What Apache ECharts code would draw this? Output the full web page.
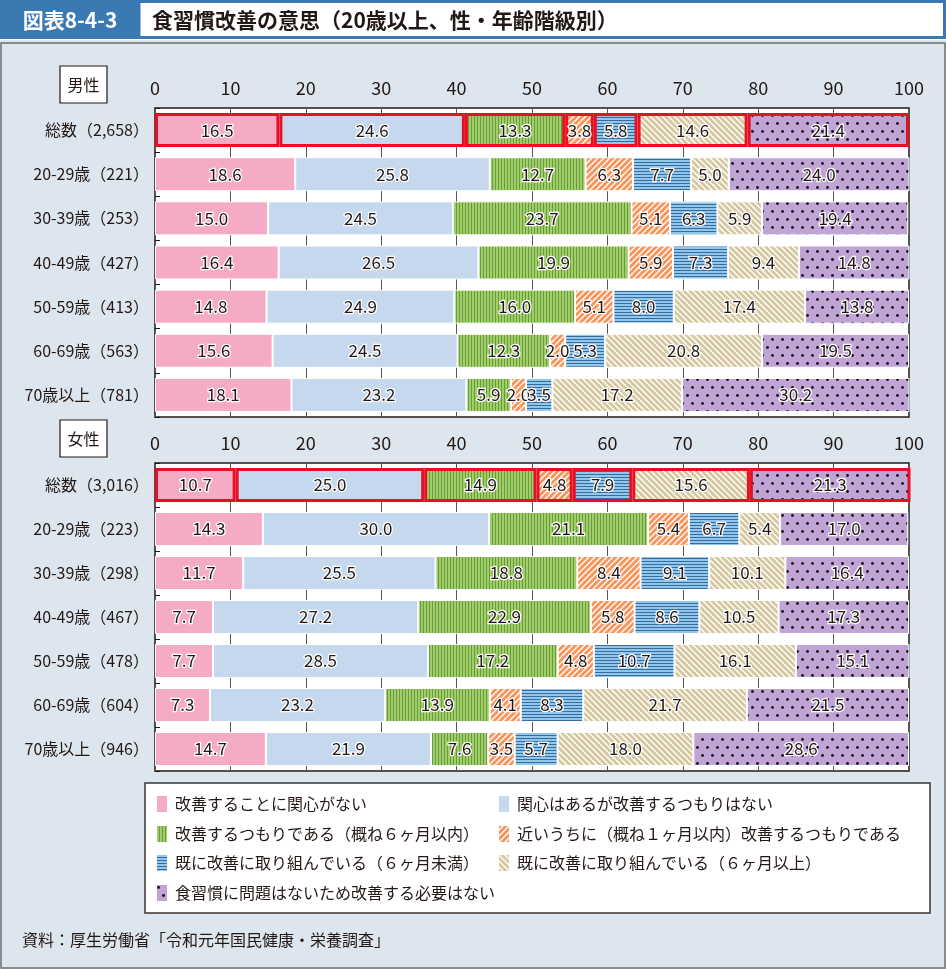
<!DOCTYPE html>
<html><head><meta charset="utf-8">
<script src="https://cdn.jsdelivr.net/npm/echarts@6/dist/echarts.min.js"></script>
<style>html,body{margin:0;padding:0;background:#fff}#c{width:946px;height:969px}</style>
</head><body><div id="c"></div>
<script>
const seriesNames = ['改善することに関心がない','関心はあるが改善するつもりはない','改善するつもりである（概ね６ヶ月以内）','近いうちに（概ね１ヶ月以内）改善するつもりである','既に改善に取り組んでいる（６ヶ月未満）','既に改善に取り組んでいる（６ヶ月以上）','食習慣に問題はないため改善する必要はない'];
const menCats = ['総数（2,658）','20-29歳（221）','30-39歳（253）','40-49歳（427）','50-59歳（413）','60-69歳（563）','70歳以上（781）'];
const womenCats = ['総数（3,016）','20-29歳（223）','30-39歳（298）','40-49歳（467）','50-59歳（478）','60-69歳（604）','70歳以上（946）'];
const xTicks = [0,10,20,30,40,50,60,70,80,90,100];
// values per series (rows = age groups, top to bottom)
const menNoInterest   = [16.5,18.6,15.0,16.4,14.8,15.6,18.1];
const menInterestNo   = [24.6,25.8,24.5,26.5,24.9,24.5,23.2];
const menWithin6m     = [13.3,12.7,23.7,19.9,16.0,12.3,5.9];
const menWithin1m     = [3.8,6.3,5.1,5.9,5.1,2.0,2.0];
const menUnder6m      = [5.8,7.7,6.3,7.3,8.0,5.3,3.5];
const menOver6m       = [14.6,5.0,5.9,9.4,17.4,20.8,17.2];
const menNoNeed       = [21.4,24.0,19.4,14.8,13.8,19.5,30.2];
const womenNoInterest = [10.7,14.3,11.7,7.7,7.7,7.3,14.7];
const womenInterestNo = [25.0,30.0,25.5,27.2,28.5,23.2,21.9];
const womenWithin6m   = [14.9,21.1,18.8,22.9,17.2,13.9,7.6];
const womenWithin1m   = [4.8,5.4,8.4,5.8,4.8,4.1,3.5];
const womenUnder6m    = [7.9,6.7,9.1,8.6,10.7,8.3,5.7];
const womenOver6m     = [15.6,5.4,10.1,10.5,16.1,21.7,18.0];
const womenNoNeed     = [21.3,17.0,16.4,17.3,15.1,21.5,28.6];

const menData = [menNoInterest,menInterestNo,menWithin6m,menWithin1m,menUnder6m,menOver6m,menNoNeed];
const womenData = [womenNoInterest,womenInterestNo,womenWithin6m,womenWithin1m,womenUnder6m,womenOver6m,womenNoNeed];

function mk(w,h,draw){const c=document.createElement('canvas');c.width=w;c.height=h;const x=c.getContext('2d');draw(x,w,h);return c;}
function pat(img){return {image:img,repeat:'repeat'};}
const pGreen = mk(3,4,(x,w,h)=>{x.fillStyle='#a0cf68';x.fillRect(0,0,w,h);x.fillStyle='#6a9a40';x.fillRect(0,0,1,h);});
const pOrange = mk(6,6,(x,w,h)=>{x.fillStyle='#f7945a';x.fillRect(0,0,w,h);x.strokeStyle='#fff';x.lineWidth=1.4;x.beginPath();x.moveTo(-1,7);x.lineTo(7,-1);x.moveTo(-1,1);x.lineTo(1,-1);x.moveTo(5,7);x.lineTo(7,5);x.stroke();});
const pBlue = mk(4,3,(x,w,h)=>{x.fillStyle='#90c8ec';x.fillRect(0,0,w,h);x.fillStyle='#3a6aa0';x.fillRect(0,0,w,1);});
const pTan = mk(6,6,(x,w,h)=>{x.fillStyle='#d6c79e';x.fillRect(0,0,w,h);x.strokeStyle='#fff';x.lineWidth=1.4;x.beginPath();x.moveTo(-1,-1);x.lineTo(7,7);x.moveTo(5,-1);x.lineTo(7,1);x.moveTo(-1,5);x.lineTo(1,7);x.stroke();});
const pPurple = mk(10,16,(x,w,h)=>{x.fillStyle='#c0a4d6';x.fillRect(0,0,w,h);x.fillStyle='#111';x.beginPath();x.arc(2.5,3.5,1.45,0,Math.PI*2);x.fill();x.beginPath();x.arc(7.5,11.5,1.45,0,Math.PI*2);x.fill();});
const fills = ['#f5abc6','#c5d8ee',pat(pGreen),pat(pOrange),pat(pBlue),pat(pTan),pat(pPurple)];

const FONT = '"Noto Sans CJK JP", "Noto Sans", sans-serif';
const TXT = '#231815';

function makeSeries(dataArr, gi){
  return dataArr.map((vals,si)=>({
    name: seriesNames[si], type:'bar', stack:'s'+gi, xAxisIndex:gi, yAxisIndex:gi,
    barWidth:34,
    itemStyle:{color:fills[si], borderColor:'#fff', borderWidth:1},
    label:{show:true, position:'inside', formatter:p=>p.value.toFixed(1), color:TXT, fontSize:17, fontFamily:FONT, textBorderColor:'#fff', textBorderWidth:2.5},
    data: vals.map((v,i)=> i===0 ? {value:v, itemStyle:{borderColor:'#e60f24', borderWidth:3}} : v),
    z: 2
  }));
}

function xAx(gi){return {gridIndex:gi,type:'value',position:'top',min:0,max:100,interval:10,
  axisLine:{show:false},axisTick:{show:false},
  axisLabel:{fontSize:18,color:TXT,fontFamily:FONT,margin:11,formatter:v=>xTicks.indexOf(v)>=0?String(v):''},
  splitLine:{show:true,lineStyle:{color:'#555',width:1}}};}
function yAx(gi,cats){return {gridIndex:gi,type:'category',inverse:true,data:cats,
  axisLine:{show:false},axisTick:{show:true,inside:true,length:5,lineStyle:{color:TXT}},
  axisLabel:{fontSize:16,color:TXT,fontFamily:FONT,margin:6}};}

const legendPos = [[155,794],[497,794],[155,824],[497,824],[155,853],[497,853],[155,883]];
const legends = seriesNames.map((n,i)=>({data:[n],left:legendPos[i][0],top:legendPos[i][1],padding:0,
  itemWidth:12,itemHeight:18,itemGap:0,icon:'rect',selectedMode:false,
  textStyle:{fontSize:16,color:TXT,fontFamily:FONT,padding:[0,0,0,2]}}));

const chart = echarts.init(document.getElementById('c'),null,{renderer:'canvas'});
chart.setOption({
  backgroundColor:'#dde6ee',
  animation:false,
  grid:[
    {left:155,top:108,width:754,height:309,show:true,backgroundColor:'#fff',borderColor:TXT,borderWidth:1.5},
    {left:155,top:463,width:754,height:308,show:true,backgroundColor:'#fff',borderColor:TXT,borderWidth:1.5}
  ],
  xAxis:[xAx(0),xAx(1)],
  yAxis:[yAx(0,menCats),yAx(1,womenCats)],
  legend: legends,
  series: makeSeries(menData,0).concat(makeSeries(womenData,1)),
  graphic:[
    {type:'rect',shape:{x:0,y:0,width:946,height:40},style:{fill:'#fff'},z:-1},
    {type:'rect',shape:{x:1.5,y:1.5,width:943,height:36},style:{fill:'#fff',stroke:'#3a79b2',lineWidth:3},z:1},
    {type:'rect',shape:{x:1.5,y:1.5,width:139,height:36},style:{fill:'#3a79b2'},z:2},
    {type:'text',x:70,y:20,style:{text:'図表8-4-3',fill:'#fff',font:'bold 21px '+FONT,textAlign:'center',textVerticalAlign:'middle'},z:3},
    {type:'text',x:152,y:20,style:{text:'食習慣改善の意思（20歳以上、性・年齢階級別）',fill:TXT,font:'bold 21px '+FONT,textAlign:'left',textVerticalAlign:'middle'},z:3},
    {type:'rect',shape:{x:1,y:43,width:944,height:925},style:{fill:'none',stroke:'#6e6e6e',lineWidth:1.5},z:1},
    {type:'rect',shape:{x:60,y:66,width:47,height:37},style:{fill:'#fff',stroke:TXT,lineWidth:1.2},z:1},
    {type:'text',x:83.5,y:84.5,style:{text:'男性',fill:TXT,font:'16px '+FONT,textAlign:'center',textVerticalAlign:'middle'},z:2},
    {type:'rect',shape:{x:60,y:420,width:47,height:37},style:{fill:'#fff',stroke:TXT,lineWidth:1.2},z:1},
    {type:'text',x:83.5,y:438.5,style:{text:'女性',fill:TXT,font:'16px '+FONT,textAlign:'center',textVerticalAlign:'middle'},z:2},
    {type:'rect',shape:{x:145,y:783,width:785,height:130},style:{fill:'#fff',stroke:'#3a3530',lineWidth:1.5},z:-1},
    {type:'text',x:22,y:940,style:{text:'資料：厚生労働省「令和元年国民健康・栄養調査」',fill:TXT,font:'16px '+FONT,textAlign:'left',textVerticalAlign:'middle'},z:2}
  ]
});
</script></body></html>
